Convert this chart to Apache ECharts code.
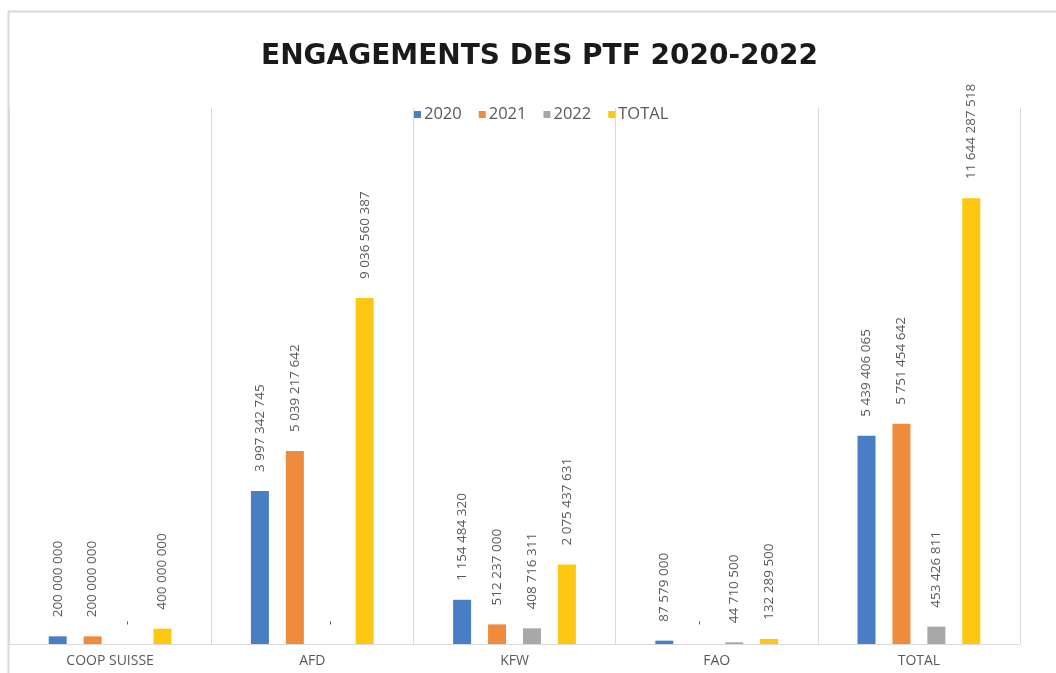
<!DOCTYPE html>
<html>
<head>
<meta charset="utf-8">
<script src="https://cdn.jsdelivr.net/npm/echarts@6/dist/echarts.min.js"></script>
<style>
html,body{margin:0;padding:0;background:#fff;}
#chart{width:1056px;height:673px;}
</style>
</head>
<body>
<div id="chart"></div>
<script>
const categories = ['COOP SUISSE', 'AFD', 'KFW', 'FAO', 'TOTAL'];
const seriesNames = ['2020', '2021', '2022', 'TOTAL'];
const values2020 = [200000000, 3997342745, 1154484320, 87579000, 5439406065];
const values2021 = [200000000, 5039217642, 512237000, 0, 5751454642];
const values2022 = [0, 0, 408716311, 44710500, 453426811];
const valuesTotal = [400000000, 9036560387, 2075437631, 132289500, 11644287518];
const colors = ['#4a7ec4', '#ef8b3c', '#a8a8a8', '#fec712'];

const allValues = [values2020, values2021, values2022, valuesTotal];

function fmt(v) {
  if (!v) return '-';
  return String(v).replace(/\B(?=(\d{3})+(?!\d))/g, ' ');
}

const chart = echarts.init(document.getElementById('chart'));
chart.setOption({
  animation: false,
  backgroundColor: '#fff',
  color: colors,
  title: {
    text: 'ENGAGEMENTS DES PTF 2020-2022',
    left: 256,
    top: 38,
    textStyle: { fontFamily: 'DejaVu Sans', fontWeight: 'bold', fontSize: 28, color: '#1a1a1a' }
  },
  legend: {
    top: 101,
    left: 409,
    itemWidth: 7,
    itemHeight: 7,
    itemGap: 17,
    icon: 'rect',
    textStyle: { fontFamily: 'Open Sans', fontSize: 16.5, color: '#595959', padding: [0, 0, 0, -2] },
    data: seriesNames
  },
  graphic: [{
    type: 'rect',
    shape: { x: 8.5, y: 11.5, width: 1200, height: 800 },
    style: { fill: 'none', stroke: '#d9d9d9', lineWidth: 2 },
    silent: true,
    z: -1
  }],
  grid: { left: 9, right: 36, top: 108, bottom: 29 },
  xAxis: {
    type: 'category',
    data: categories,
    axisLine: { lineStyle: { color: '#d9d9d9', width: 1 } },
    axisTick: { show: false },
    splitLine: { show: true, lineStyle: { color: '#d9d9d9', width: 1 } },
    axisLabel: { fontFamily: 'Open Sans', fontSize: 14, color: '#595959', margin: 10 }
  },
  yAxis: {
    type: 'value',
    min: 0,
    max: 14000000000,
    show: false,
    splitLine: { show: false }
  },
  series: seriesNames.map((name, i) => ({
    name: name,
    type: 'bar',
    data: allValues[i],
    barWidth: 18,
    barGap: '94%',
    itemStyle: { color: colors[i] },
    label: {
      show: true,
      position: 'top',
      rotate: 90,
      align: 'left',
      verticalAlign: 'middle',
      distance: 19,
      fontFamily: 'Open Sans',
      fontSize: 13.5,
      color: '#595959',
      formatter: p => fmt(p.value)
    }
  }))
});
</script>
</body>
</html>
